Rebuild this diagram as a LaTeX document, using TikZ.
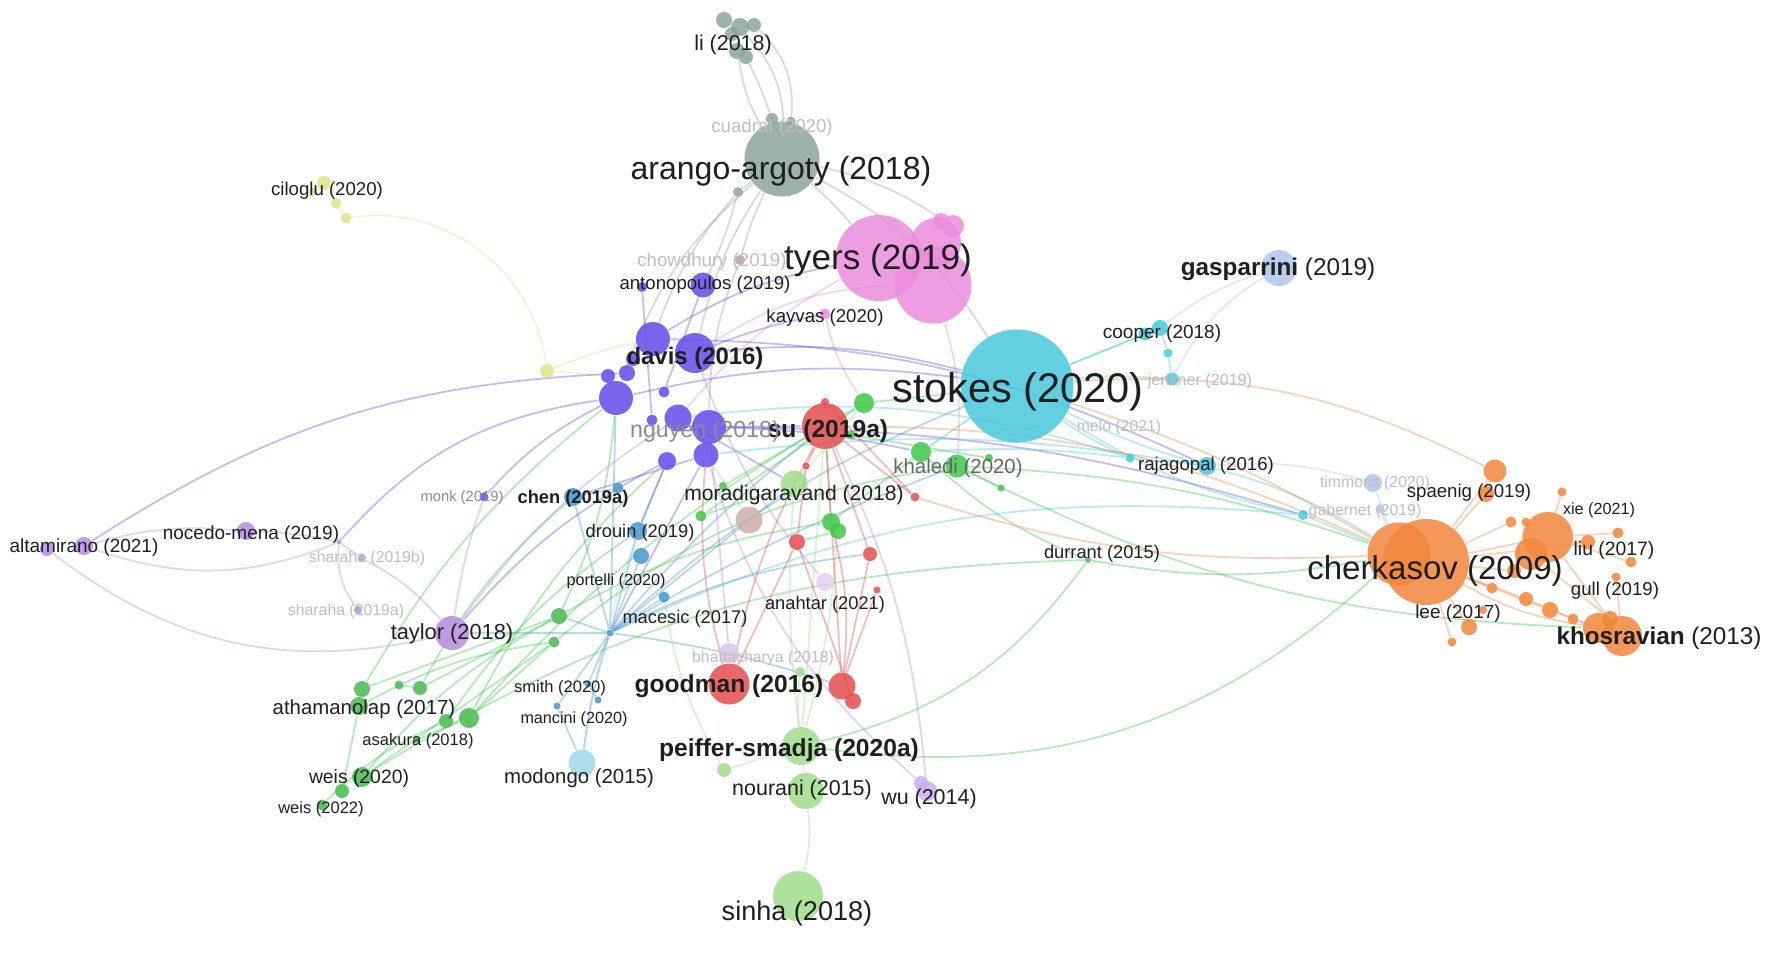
\documentclass[tikz,border=0pt]{standalone}
\usepackage{fontspec}
\setmainfont{Liberation Sans}
\usetikzlibrary{backgrounds}

\definecolor{cyanc}{RGB}{72,200,222}
\definecolor{pinkc}{RGB}{236,140,222}
\definecolor{greyc}{RGB}{140,165,155}
\definecolor{violetc}{RGB}{100,75,235}
\definecolor{redc}{RGB}{226,78,78}
\definecolor{greenc}{RGB}{60,200,70}
\definecolor{lgreenc}{RGB}{160,220,140}
\definecolor{bluec}{RGB}{70,150,205}
\definecolor{lbluec}{RGB}{160,215,235}
\definecolor{lavc}{RGB}{180,140,225}
\definecolor{yelc}{RGB}{225,225,140}
\definecolor{brownc}{RGB}{205,175,165}
\definecolor{palebc}{RGB}{175,198,235}
\definecolor{orangec}{RGB}{242,135,60}

\tikzset{
  paper/.style={circle, inner sep=0pt, fill=#1, fill opacity=.85, draw=none},
  dia/.style={minimum size=#1*0.1mm},
  lbl/.style={inner sep=0pt, text=black!88, font=\fontsize{#1}{#1}\selectfont},
  faint/.style={text=black!25},
  link/.style={draw=#1, line width=.5pt, draw opacity=.38},
}

\begin{document}
\begin{tikzpicture}[x=0.01cm, y=-0.01cm]
\useasboundingbox (0,0) rectangle (1772,960);

%% cyan cluster
\node[paper=cyanc, dia=113] (stokes) at (1017,386) {};
\node[paper=cyanc, dia=13] (cy1) at (1145,334) {};
\node[paper=cyanc, dia=16] (cy2) at (1160,328) {};
\node[paper=cyanc, dia=9] (cy3) at (1168,353) {};
\node[paper=cyanc, dia=13] (cy4) at (1172,379) {};
\node[paper=cyanc, dia=9] (cy5) at (1130,458) {};
\node[paper=cyanc, dia=18] (rajagopal) at (1207,466) {};
\node[paper=cyanc, dia=10] (cy6) at (1303,515) {};

%% pink cluster
\node[paper=pinkc, dia=86] (ty1) at (879,258) {};
\node[paper=pinkc, dia=77] (ty2) at (933,285) {};
\node[paper=pinkc, dia=50] (ty3) at (936,243) {};
\node[paper=pinkc, dia=22] (ty4) at (953,226) {};
\node[paper=pinkc, dia=16] (ty5) at (941,221) {};
\node[paper=pinkc, dia=11] (kayvas) at (825,314) {};

%% grey cluster
\node[paper=greyc, dia=75] (arango) at (782,159) {};
\node[paper=greyc, dia=16] (li1) at (724,20) {};
\node[paper=greyc, dia=18] (li2) at (740,27) {};
\node[paper=greyc, dia=14] (li3) at (754,25) {};
\node[paper=greyc, dia=16] (li4) at (737,51) {};
\node[paper=greyc, dia=14] (li5) at (746,57) {};
\node[paper=greyc, dia=14] (li6) at (732,34) {};
\node[paper=greyc, dia=12] (cu1) at (772,119) {};
\node[paper=greyc, dia=9] (cu2) at (791,121) {};
\node[paper=greyc, dia=10] (vilne) at (738,192) {};
\node[paper=brownc!70!gray, dia=10] (chowdhury) at (740,260) {};

%% violet cluster
\node[paper=violetc, dia=34] (pu1) at (653,339) {};
\node[paper=violetc, dia=40] (pu2) at (695,353) {};
\node[paper=violetc, dia=34] (pu3) at (616,398) {};
\node[paper=violetc, dia=27] (pu4) at (678,418) {};
\node[paper=violetc, dia=34] (pu5) at (709,427) {};
\node[paper=violetc, dia=25] (pu6) at (706,455) {};
\node[paper=violetc, dia=18] (pu7) at (667,461) {};
\node[paper=violetc, dia=16] (pu8) at (627,373) {};
\node[paper=violetc, dia=14] (pu9) at (608,376) {};
\node[paper=violetc, dia=11] (pu10) at (652,420) {};
\node[paper=violetc, dia=14] (pu11) at (633,359) {};
\node[paper=violetc, dia=11] (pu12) at (664,392) {};
\node[paper=violetc, dia=10] (anto1) at (642,287) {};
\node[paper=violetc, dia=25] (anto2) at (703,285) {};
\node[paper=violetc, dia=9] (monk) at (484,497) {};

%% red cluster
\node[paper=redc, dia=46] (su) at (825,426) {};
\node[paper=redc, dia=7] (r1) at (806,466) {};
\node[paper=redc, dia=16] (r2) at (797,542) {};
\node[paper=redc, dia=14] (r3) at (870,554) {};
\node[paper=redc, dia=9] (r4) at (915,497) {};
\node[paper=redc, dia=7] (r5) at (877,590) {};
\node[paper=redc, dia=41] (goodman) at (729,684) {};
\node[paper=redc, dia=27] (r6) at (842,686) {};
\node[paper=redc, dia=16] (r7) at (853,701) {};
\node[paper=redc, dia=8] (r8) at (825,402) {};

%% green cluster
\node[paper=greenc, dia=20] (g1) at (864,403) {};
\node[paper=greenc, dia=9] (g2) at (851,435) {};
\node[paper=greenc, dia=20] (g3) at (921,452) {};
\node[paper=greenc, dia=23] (g4) at (957,466) {};
\node[paper=greenc, dia=8] (g5) at (989,458) {};
\node[paper=greenc, dia=7] (g6) at (1001,488) {};
\node[paper=greenc, dia=18] (g7) at (831,522) {};
\node[paper=greenc, dia=16] (g8) at (838,531) {};
\node[paper=greenc, dia=11] (g9) at (701,516) {};
\node[paper=greenc, dia=8] (g10) at (723,486) {};
\node[paper=greenc, dia=6] (durrant) at (1088,560) {};
\node[paper=greenc!80!gray, dia=16] (gl1) at (559,616) {};
\node[paper=greenc!80!gray, dia=11] (gl2) at (554,642) {};
\node[paper=greenc!80!gray, dia=20] (gl3) at (469,718) {};
\node[paper=greenc!80!gray, dia=14] (gl4) at (446,721) {};
\node[paper=greenc!80!gray, dia=14] (gl5) at (420,688) {};
\node[paper=greenc!80!gray, dia=9] (gl6) at (399,685) {};
\node[paper=greenc!80!gray, dia=16] (ath1) at (362,689) {};
\node[paper=greenc!80!gray, dia=18] (ath2) at (359,706) {};
\node[paper=greenc!80!gray, dia=20] (weis1) at (362,777) {};
\node[paper=greenc!80!gray, dia=14] (weis2) at (342,791) {};
\node[paper=greenc!80!gray, dia=11] (weis3) at (322,805) {};
\node[paper=greenc!80!gray, dia=7] (asakura) at (416,740) {};

%% light green cluster
\node[paper=lgreenc, dia=27] (morad) at (794,484) {};
\node[paper=lgreenc, dia=38] (peiffer) at (801,746) {};
\node[paper=lgreenc, dia=14] (pe2) at (724,770) {};
\node[paper=lgreenc, dia=36] (nourani) at (806,791) {};
\node[paper=lgreenc, dia=50] (sinha) at (798,896) {};
\node[paper=lgreenc, dia=10] (lg1) at (800,672) {};

%% blue cluster
\node[paper=bluec, dia=18] (chen) at (573,497) {};
\node[paper=bluec, dia=11] (bl1) at (618,488) {};
\node[paper=bluec, dia=18] (drouin) at (638,531) {};
\node[paper=bluec, dia=16] (bl2) at (641,556) {};
\node[paper=bluec, dia=11] (bl3) at (664,597) {};
\node[paper=bluec, dia=7] (hub) at (610,633) {};
\node[paper=bluec, dia=7] (smith) at (588,684) {};
\node[paper=bluec, dia=7] (bl4) at (598,700) {};
\node[paper=bluec, dia=7] (mancini) at (557,706) {};
\node[paper=lbluec, dia=27] (modongo) at (582,763) {};

%% lavender cluster
\node[paper=lavc, dia=34] (taylor) at (452,633) {};
\node[paper=lavc, dia=18] (nocedo) at (246,531) {};
\node[paper=lavc, dia=18] (alta1) at (84,546) {};
\node[paper=lavc, dia=14] (alta2) at (47,549) {};
\node[paper=lavc, dia=8] (sharb) at (362,558) {};
\node[paper=lavc, dia=8] (shara) at (358,610) {};
\node[paper=lavc, dia=5] (nochub) at (339,542) {};
\node[paper=lavc!70, dia=20] (wu) at (927,791) {};
\node[paper=lavc!70, dia=14] (wu2) at (921,783) {};
\node[paper=lavc!50, dia=20] (bhat) at (729,653) {};
\node[paper=lavc!40, dia=18] (anahtar) at (825,582) {};

%% yellow, brown, pale blue
\node[paper=yelc, dia=14] (cil1) at (324,183) {};
\node[paper=yelc, dia=11] (cil2) at (336,203) {};
\node[paper=yelc, dia=11] (cil3) at (346,218) {};
\node[paper=yelc, dia=9] (cil4) at (313,192) {};
\node[paper=yelc, dia=14] (yel) at (547,371) {};
\node[paper=brownc, dia=27] (brown) at (749,520) {};
\node[paper=palebc, dia=36] (gasparrini) at (1279,268) {};
\node[paper=palebc, dia=18] (timmons) at (1373,483) {};
\node[paper=palebc, dia=9] (gabernet) at (1380,509) {};

%% orange cluster
\node[paper=orangec, dia=63] (cher2) at (1399,554) {};
\node[paper=orangec, dia=86] (cher1) at (1426,562) {};
\node[paper=orangec, dia=50] (or1) at (1548,537) {};
\node[paper=orangec, dia=32] (or2) at (1531,554) {};
\node[paper=orangec, dia=23] (or3) at (1495,471) {};
\node[paper=orangec, dia=16] (or4) at (1486,494) {};
\node[paper=orangec, dia=11] (or5) at (1511,522) {};
\node[paper=orangec, dia=9] (or6) at (1526,522) {};
\node[paper=orangec, dia=9] (or7) at (1562,492) {};
\node[paper=orangec, dia=14] (or8) at (1588,542) {};
\node[paper=orangec, dia=11] (or9) at (1618,533) {};
\node[paper=orangec, dia=11] (or10) at (1631,562) {};
\node[paper=orangec, dia=9] (or11) at (1616,577) {};
\node[paper=orangec, dia=14] (or12) at (1514,571) {};
\node[paper=orangec, dia=11] (or13) at (1492,588) {};
\node[paper=orangec, dia=14] (or14) at (1526,599) {};
\node[paper=orangec, dia=16] (or15) at (1550,610) {};
\node[paper=orangec, dia=11] (or16) at (1573,619) {};
\node[paper=orangec, dia=16] (or17) at (1610,619) {};
\node[paper=orangec, dia=30] (khos2) at (1598,628) {};
\node[paper=orangec, dia=40] (khos1) at (1622,636) {};
\node[paper=orangec, dia=16] (or18) at (1469,627) {};
\node[paper=orangec, dia=9] (or19) at (1452,642) {};
\node[paper=orangec, dia=8] (or20) at (1483,610) {};

%% links
\begin{scope}[on background layer]
\fill[white] (0,0) rectangle (1772,960);
% grey
\draw[link=greyc] (li4) to[bend right=10] (arango);
\draw[link=greyc] (li5) to[bend left=5] (arango);
\draw[link=greyc] (li2) to[bend left=20] (arango);
\draw[link=greyc] (li3) to[bend left=25] (cu2);
\draw[link=greyc] (arango) to (vilne);
\draw[link=greyc] (arango) to[bend right=5] (chowdhury);
\draw[link=greyc] (vilne) to[bend right=10] (pu1);
\draw[link=greyc] (vilne) to[bend left=5] (anto2);
\draw[link=greyc] (arango) to[bend right=10] (pu2);
\draw[link=greyc] (arango) to[bend left=5] (ty1);
\draw[link=greyc] (arango) to[bend left=10] (ty4);
\draw[link=greyc] (arango) to[bend left=15] (stokes);
\draw[link=greyc] (chowdhury) to[bend right=10] (pu5);
\draw[link=greyc] (arango) to[bend right=15] (pu3);
% yellow
\draw[link=yelc] (cil3) to[bend left=45] (yel);
\draw[link=yelc] (yel) to (pu9);
\draw[link=yelc] (yel) to[bend left=5] (pu1);
\draw[link=yelc] (cil1) to (cil3);
% pink
\draw[link=pinkc] (pu2) to[bend left=15] (ty2);
\draw[link=pinkc] (kayvas) to[bend right=10] (g1);
\draw[link=pinkc] (ty2) to[bend left=10] (g4);
\draw[link=pinkc] (ty1) to[bend right=10] (pu4);
% violet
\draw[link=violetc] (pu2) to[bend left=10] (stokes);
\draw[link=violetc] (pu3) to[bend left=10] (stokes);
\draw[link=violetc] (pu1) to[bend left=10] (ty1);
\draw[link=violetc] (pu5) to (su);
\draw[link=violetc] (pu3) to[bend right=10] (monk);
\draw[link=violetc] (pu3) to[bend right=20] (nochub);
\draw[link=violetc] (pu7) to[bend right=10] (taylor);
\draw[link=violetc] (pu1) to[bend left=12] (rajagopal);
\draw[link=violetc] (pu5) to[bend left=8] (cy6);
\draw[link=violetc] (pu6) to (chen);
\draw[link=violetc] (pu7) to (drouin);
\draw[link=violetc] (pu6) to (hub);
\draw[link=violetc] (pu4) to (morad);
\draw[link=violetc] (pu2) to[bend left=5] (kayvas);
\draw[link=violetc] (pu5) to[bend left=5] (g3);
\draw[link=violetc] (pu8) to[bend right=15] (alta1);
\draw[link=violetc] (pu12) to (anto2);
\draw[link=violetc] (pu10) to (anto1);
% lavender
\draw[link=lavc] (nochub) to[bend right=5] (nocedo);
\draw[link=lavc] (nochub) to[bend left=20] (alta1);
\draw[link=lavc] (alta1) to[bend left=10] (nocedo);
\draw[link=lavc] (nochub) to (sharb);
\draw[link=lavc] (nochub) to[bend right=20] (shara);
\draw[link=lavc] (sharb) to[bend left=10] (taylor);
\draw[link=lavc] (monk) to[bend right=5] (taylor);
\draw[link=lavc] (taylor) to[bend left=10] (pu4);
\draw[link=lavc] (alta2) to[bend right=25] (taylor);
\draw[link=lavc] (wu) to[bend right=10] (su);
\draw[link=lavc] (wu2) to[bend left=15] (pu6);
\draw[link=lavc] (bhat) to (pu5);
\draw[link=lavc] (anahtar) to[bend left=10] (pu2);
% blue
\draw[link=bluec] (hub) to (drouin);
\draw[link=bluec] (hub) to (chen);
\draw[link=bluec] (hub) to (bl3);
\draw[link=bluec] (hub) to (bl2);
\draw[link=bluec] (hub) to[bend left=5] (su);
\draw[link=bluec] (hub) to[bend left=10] (stokes);
\draw[link=bluec] (hub) to (morad);
\draw[link=bluec] (hub) to (smith);
\draw[link=bluec] (hub) to (mancini);
\draw[link=bluec] (hub) to[bend right=5] (modongo);
\draw[link=bluec] (hub) to[bend left=5] (r6);
\draw[link=bluec] (hub) to (taylor);
\draw[link=bluec] (hub) to[bend left=5] (g4);
\draw[link=bluec] (hub) to (pu3);
\draw[link=bluec] (hub) to (gl1);
\draw[link=bluec] (hub) to[bend left=10] (r3);
\draw[link=bluec] (chen) to (bl1);
\draw[link=bluec] (drouin) to (pu7);
\draw[link=bluec] (smith) to (bl4);
\draw[link=bluec] (mancini) to (modongo);
\draw[link=lbluec] (modongo) to[bend left=5] (drouin);
% green
\draw[link=greenc] (gl1) to (ath1);
\draw[link=greenc] (gl1) to (gl5);
\draw[link=greenc] (gl2) to (gl3);
\draw[link=greenc] (gl2) to (weis1);
\draw[link=greenc] (gl1) to[bend right=10] (pu3);
\draw[link=greenc] (gl3) to[bend left=10] (pu7);
\draw[link=greenc] (gl3) to[bend left=8] (su);
\draw[link=greenc] (ath1) to[bend left=10] (pu3);
\draw[link=greenc] (gl5) to[bend left=10] (chen);
\draw[link=greenc] (ath2) to[bend left=10] (gl2);
\draw[link=greenc] (weis1) to[bend left=10] (gl1);
\draw[link=greenc] (weis3) to[bend left=10] (gl4);
\draw[link=greenc] (gl4) to[bend left=10] (drouin);
\draw[link=greenc] (asakura) to (gl3);
\draw[link=greenc] (gl6) to (gl5);
\draw[link=greenc] (weis2) to (ath2);
\draw[link=greenc] (g1) to (stokes);
\draw[link=greenc] (g3) to (stokes);
\draw[link=greenc] (g4) to[bend left=8] (cher2);
\draw[link=greenc] (g7) to (su);
\draw[link=greenc] (g7) to (g3);
\draw[link=greenc] (g8) to (r2);
\draw[link=greenc] (g9) to (g1);
\draw[link=greenc] (g9) to (morad);
\draw[link=greenc] (g10) to (g1);
\draw[link=greenc] (g2) to (g5);
\draw[link=greenc] (g6) to (g4);
\draw[link=greenc] (gl1) to[bend left=10] (g7);
\draw[link=greenc] (gl2) to[bend left=15] (g4);
\draw[link=greenc] (g4) to[bend right=12] (khos2);
\draw[link=greenc] (peiffer) to[bend right=25] (cher2);
\draw[link=greenc] (peiffer) to[bend right=20] (durrant);
\draw[link=greenc] (durrant) to[bend right=10] (cher2);
\draw[link=greenc] (durrant) to[bend left=10] (g3);
\draw[link=greenc] (weis1) to[bend left=15] (durrant);
% light green
\draw[link=lgreenc] (peiffer) to (nourani);
\draw[link=lgreenc] (nourani) to[bend left=10] (sinha);
\draw[link=lgreenc] (peiffer) to (pe2);
\draw[link=lgreenc] (peiffer) to[bend left=5] (morad);
\draw[link=lgreenc] (peiffer) to (su);
\draw[link=lgreenc] (peiffer) to[bend left=5] (lg1);
\draw[link=lgreenc] (peiffer) to[bend right=5] (g8);
\draw[link=lgreenc] (pe2) to[bend left=10] (bl3);
\draw[link=lgreenc] (morad) to (g1);
\draw[link=lgreenc] (brown) to (pu6);
% red
\draw[link=redc] (su) to[bend right=8] (goodman);
\draw[link=redc] (su) to (r1);
\draw[link=redc] (su) to (r3);
\draw[link=redc] (r2) to (goodman);
\draw[link=redc] (r3) to (r6);
\draw[link=redc] (r4) to (su);
\draw[link=redc] (r5) to (r6);
\draw[link=redc] (r6) to (su);
\draw[link=redc] (r6) to[bend right=10] (g7);
\draw[link=redc] (goodman) to[bend left=10] (pu6);
\draw[link=redc] (r2) to (r7);
\draw[link=redc] (r1) to (r2);
\draw[link=redc] (r8) to (r4);
% cyan
\draw[link=cyanc] (stokes) to (cy1);
\draw[link=cyanc] (stokes) to (cy2);
\draw[link=cyanc] (stokes) to[bend left=5] (cy4);
\draw[link=cyanc] (stokes) to[bend right=5] (rajagopal);
\draw[link=cyanc] (stokes) to[bend right=5] (cy5);
\draw[link=cyanc] (stokes) to[bend right=10] (cy6);
\draw[link=cyanc] (cy2) to (cy3);
\draw[link=cyanc] (cy3) to (cy4);
\draw[link=cyanc] (cy5) to (rajagopal);
\draw[link=cyanc] (rajagopal) to[bend left=8] (cher2);
\draw[link=cyanc] (cy6) to (cher2);
\draw[link=cyanc] (pu4) to[bend left=12] (cy5);
\draw[link=cyanc] (pu6) to[bend left=8] (rajagopal);
\draw[link=cyanc] (hub) to[bend left=15] (cy6);
\draw[link=cyanc] (cy5) to[bend right=5] (g3);
% pale blue
\draw[link=palebc] (gasparrini) to[bend right=10] (cy2);
\draw[link=palebc] (gasparrini) to[bend right=15] (cy4);
\draw[link=palebc] (timmons) to (cher2);
\draw[link=palebc] (gabernet) to (cher2);
\draw[link=palebc] (timmons) to[bend right=10] (rajagopal);
% orange
\draw[link=orangec] (cher1) to (or1);
\draw[link=orangec] (cher1) to (or3);
\draw[link=orangec] (cher1) to (or4);
\draw[link=orangec] (cher1) to (or5);
\draw[link=orangec] (cher1) to (or8);
\draw[link=orangec] (cher1) to (or12);
\draw[link=orangec] (cher1) to (or13);
\draw[link=orangec] (cher1) to (or14);
\draw[link=orangec] (cher1) to (or15);
\draw[link=orangec] (cher1) to (or18);
\draw[link=orangec] (cher1) to (or19);
\draw[link=orangec] (cher1) to[bend right=10] (khos2);
\draw[link=orangec] (or1) to (or8);
\draw[link=orangec] (or1) to (or9);
\draw[link=orangec] (or1) to (or10);
\draw[link=orangec] (or1) to (khos1);
\draw[link=orangec] (or2) to (or17);
\draw[link=orangec] (or15) to (khos2);
\draw[link=orangec] (or14) to (or16);
\draw[link=orangec] (or16) to (khos1);
\draw[link=orangec] (or3) to (or4);
\draw[link=orangec] (or7) to (or1);
\draw[link=orangec] (or11) to (khos1);
\draw[link=orangec] (or12) to (or6);
\draw[link=orangec] (or20) to (or18);
\draw[link=orangec] (cher2) to[bend right=12] (su);
\draw[link=orangec] (cher2) to[bend right=6] (stokes);
\draw[link=orangec] (or3) to[bend right=15] (stokes);
\draw[link=orangec] (cher2) to[bend left=10] (r4);
\end{scope}

%% labels
\node[lbl=6.1] (l-li) at (733,45) {li (2018)};
\node[lbl=5.3, faint] (l-cuadrat) at (772,128) {cuadrat (2020)};
\node[lbl=9.1] (l-arango) at (781,171) {arango-argoty (2018)};
\node[lbl=5.3] (l-ciloglu) at (327,191) {ciloglu (2020)};
\node[lbl=10] (l-tyers) at (878,260) {tyers (2019)};
\node[lbl=6.9] (l-gasparrini) at (1278,269) {\bfseries gasparrini \mdseries(2019)};
\node[lbl=5.3, faint] (l-chowdhury) at (712,262) {chowdhury (2019)};
\node[lbl=5.3] (l-anto) at (705,285) {antonopoulos (2019)};
\node[lbl=5.3] (l-kayvas) at (825,318) {kayvas (2020)};
\node[lbl=5.4] (l-cooper) at (1162,334) {cooper (2018)};
\node[lbl=4.6, faint] (l-jenkner) at (1200,381) {jenkner (2019)};
\node[lbl=6.8] (l-davis) at (695,358) {\bfseries davis (2016)};
\node[lbl=11.8] (l-stokes) at (1018,392) {stokes (2020)};
\node[lbl=7] (l-su) at (828,431) {\bfseries su (2019a)};
\node[lbl=6.6, text=black!45] (l-nguyen) at (705,431) {nguyen (2018)};
\node[lbl=4.5, faint] (l-melo) at (1119,427) {melo (2021)};
\node[lbl=5.8, text=black!60] (l-khaledi) at (958,468) {khaledi (2020)};
\node[lbl=5.3] (l-rajagopal) at (1206,466) {rajagopal (2016)};
\node[lbl=4.5, faint] (l-timmons) at (1375,483) {timmons (2020)};
\node[lbl=5.3] (l-spaenig) at (1469,493) {spaenig (2019)};
\node[lbl=4.5, faint] (l-gabernet) at (1365,511) {gabernet (2019)};
\node[lbl=4.6] (l-xie) at (1599,510) {xie (2021)};
\node[lbl=6] (l-morad) at (794,495) {moradigaravand (2018)};
\node[lbl=4.2, text=black!45] (l-monk) at (462,498) {monk (2019)};
\node[lbl=5.2] (l-chen) at (573,499) {\bfseries chen (2019a)};
\node[lbl=5.2] (l-drouin) at (640,533) {drouin (2019)};
\node[lbl=5.5] (l-liu) at (1614,550) {liu (2017)};
\node[lbl=5.4] (l-alta) at (84,548) {altamirano (2021)};
\node[lbl=5.4] (l-nocedo) at (251,535) {nocedo-mena (2019)};
\node[lbl=5.2] (l-durrant) at (1102,554) {durrant (2015)};
\node[lbl=4.5, faint] (l-sharb) at (367,558) {sharaha (2019b)};
\node[lbl=9.4] (l-cherkasov) at (1435,571) {cherkasov (2009)};
\node[lbl=4.6] (l-portelli) at (616,581) {portelli (2020)};
\node[lbl=5.3] (l-gull) at (1615,591) {gull (2019)};
\node[lbl=4.5, faint] (l-shara) at (346,611) {sharaha (2019a)};
\node[lbl=5.2] (l-macesic) at (685,619) {macesic (2017)};
\node[lbl=5.2] (l-anahtar) at (825,605) {anahtar (2021)};
\node[lbl=5.4] (l-lee) at (1458,614) {lee (2017)};
\node[lbl=6.2] (l-taylor) at (452,634) {taylor (2018)};
\node[lbl=6.9] (l-khosravian) at (1659,638) {\bfseries khosravian \mdseries(2013)};
\node[lbl=4.5, faint] (l-bhat) at (763,658) {bhattacharya (2018)};
\node[lbl=7] (l-goodman) at (729,686) {\bfseries goodman (2016)};
\node[lbl=4.7] (l-smith) at (560,688) {smith (2020)};
\node[lbl=5.8] (l-athamanolap) at (364,709) {athamanolap (2017)};
\node[lbl=4.6] (l-mancini) at (574,719) {mancini (2020)};
\node[lbl=4.7] (l-asakura) at (418,741) {asakura (2018)};
\node[lbl=7] (l-peiffer) at (789,750) {\bfseries peiffer-smadja (2020a)};
\node[lbl=5.8] (l-modongo) at (579,778) {modongo (2015)};
\node[lbl=5.5] (l-weis1) at (359,778) {weis (2020)};
\node[lbl=6.1] (l-nourani) at (802,790) {nourani (2015)};
\node[lbl=6.1] (l-wu) at (929,799) {wu (2014)};
\node[lbl=4.7] (l-weis2) at (321,809) {weis (2022)};
\node[lbl=7.7] (l-sinha) at (797,913) {sinha (2018)};
\end{tikzpicture}
\end{document}
